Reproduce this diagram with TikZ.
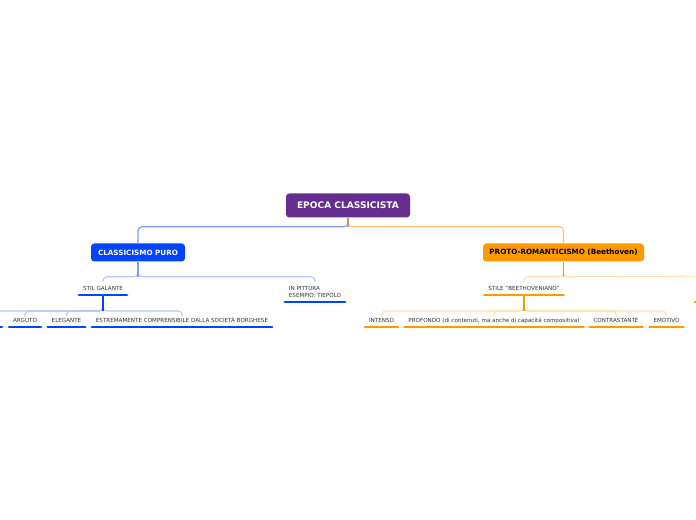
\documentclass[tikz,border=0pt]{standalone}
\usepackage{fontspec}
\setmainfont{DejaVu Sans}
\usetikzlibrary{positioning}
\definecolor{rootpurple}{RGB}{102,45,145}
\definecolor{mapblue}{RGB}{0,68,255}
\definecolor{maporange}{RGB}{255,153,0}
\definecolor{bluemid}{RGB}{122,156,248}
\definecolor{bluelight}{RGB}{178,198,252}
\definecolor{orangemid}{RGB}{255,196,112}
\definecolor{orangelight}{RGB}{255,222,170}
\definecolor{stemtan}{RGB}{196,150,100}
\definecolor{leaftext}{RGB}{51,51,51}

\begin{document}
\begin{tikzpicture}[
            x=0.75pt, y=-0.75pt,
            every node/.style={font=\fontsize{4.2}{5.3}\selectfont, text=leaftext},
            topic/.style={rounded corners=2.5pt, inner sep=0pt, minimum height=13.5pt, font=\fontsize{5.4}{6.4}\selectfont\bfseries},
            leaf/.style={anchor=south, inner xsep=2.8pt, inner ysep=3.4pt, text height=3pt, text depth=0pt},
            bline/.style={mapblue, line width=2.2pt, line cap=round},
            oline/.style={maporange, line width=2.2pt, line cap=round},
            conn/.style={line width=0.8pt, rounded corners=3pt},
        ]
            \useasboundingbox (0,0) rectangle (696,520);
            \clip (0,0) rectangle (696,520);

            % main topics
            \node[topic, fill=rootpurple, text=white, minimum width=93pt, minimum height=18pt, font=\fontsize{6.8}{8}\selectfont\bfseries] (root) at (348,205.5) {EPOCA CLASSICISTA};
            \node[topic, fill=mapblue, text=white, minimum width=70.5pt] (cp) at (138,252.5) {CLASSICISMO PURO};
            \node[topic, fill=maporange, text=black, minimum width=120.75pt] (proto) at (563.5,252.5) {PROTO-ROMANTICISMO (Beethoven)};

            % classicismo puro
            \node[leaf] (sg) at (103,295) {STIL GALANTE};
            \node[leaf, align=left, text height=8pt] (pit) at (315,302) {IN PITTURA\\ESEMPIO: TIEPOLO};
            \node[leaf] (ag) at (25,327) {ARGUTO};
            \node[leaf] (el) at (66.5,327) {ELEGANTE};
            \node[leaf] (es) at (182,327) {ESTREMAMENTE COMPRENSIBILE DALLA SOCIETÀ BORGHESE};
            \coordinate (offl) at (-30,311);

            % proto-romanticismo
            \node[leaf] (bh) at (524,295) {STILE "BEETHOVENIANO"};
            \node[leaf] (in) at (381.5,327) {INTENSO};
            \node[leaf] (pr) at (494,327) {PROFONDO (di contenuti, ma anche di capacità compositiva)};
            \node[leaf] (ct) at (616,327) {CONTRASTANTE};
            \node[leaf] (em) at (666.5,327) {EMOTIVO};
            \coordinate (offr) at (730,276);

            % underlines
            \draw[bline] (sg.south west) -- (sg.south east);
            \draw[bline] (pit.south west) -- (pit.south east);
            \draw[bline] (ag.south west) -- (ag.south east);
            \draw[bline] (el.south west) -- (el.south east);
            \draw[bline] (es.south west) -- (es.south east);
            \draw[bline] (-30,327) -- (2,327);
            \draw[oline] (bh.south west) -- (bh.south east);
            \draw[oline] (in.south west) -- (in.south east);
            \draw[oline] (pr.south west) -- (pr.south east);
            \draw[oline] (ct.south west) -- (ct.south east);
            \draw[oline] (em.south west) -- (em.south east);
            \draw[oline] (695,302) -- (730,302);

            % connectors
            \draw[conn, orangemid] (root.south) -- ++(0,9) -| (proto.north);
            \draw[conn, bluemid] (root.south) -- ++(0,9) -| (cp.north);
            \draw[conn, stemtan] (root.south) -- ++(0,9);

            \draw[conn, bluelight] (cp.south) -- ++(0,15) -| (sg.north);
            \draw[conn, bluelight] (cp.south) -- ++(0,15) -| (pit.north);
            \draw[conn, bluemid] (cp.south) -- ++(0,15);

            \draw[conn, bluelight] (sg.south) -- ++(0,16) -| (ag.north);
            \draw[conn, bluelight] (sg.south) -- ++(0,16) -| (el.north);
            \draw[conn, bluelight] (sg.south) -- ++(0,16) -| (es.north);
            \draw[conn, bluelight] (sg.south) -- ++(0,16) -- (offl);
            \draw[conn, mapblue] (sg.south) -- ++(0,16);

            \draw[conn, orangelight] (proto.south) -- ++(0,15) -| (bh.north);
            \draw[conn, orangelight] (proto.south) -- ++(0,15) -- (offr);
            \draw[conn, maporange] (proto.south) -- ++(0,15);

            \draw[conn, orangelight] (bh.south) -- ++(0,16) -| (in.north);
            \draw[conn, orangelight] (bh.south) -- ++(0,16) -| (pr.north);
            \draw[conn, orangelight] (bh.south) -- ++(0,16) -| (ct.north);
            \draw[conn, orangelight] (bh.south) -- ++(0,16) -| (em.north);
            \draw[conn, maporange] (bh.south) -- ++(0,16);
        \end{tikzpicture}
\end{document}
